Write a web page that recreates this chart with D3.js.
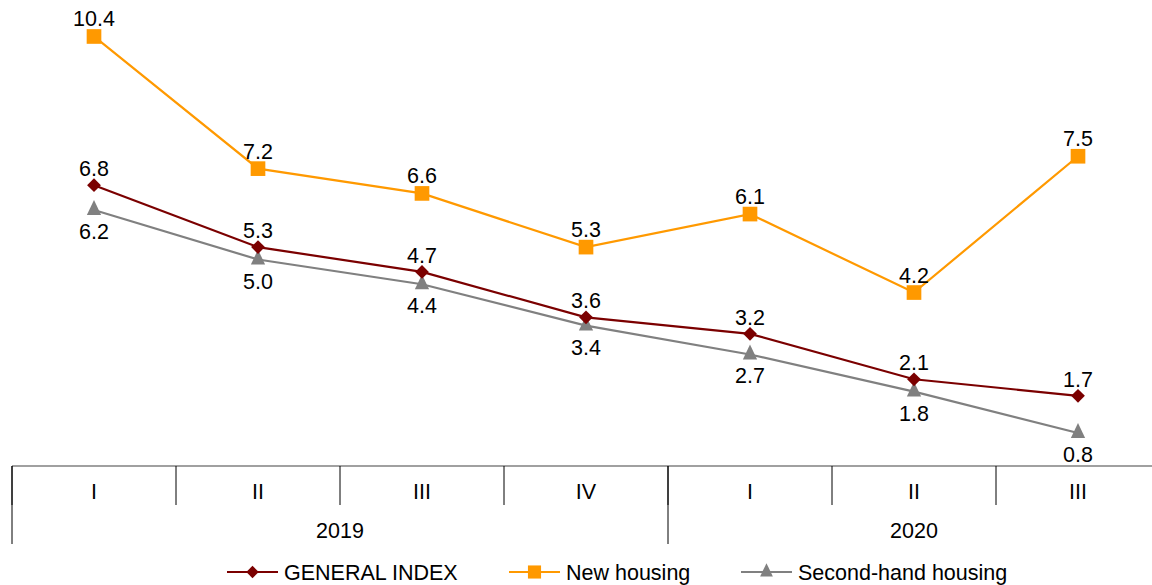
<!DOCTYPE html>
<html>
<head>
<meta charset="utf-8">
<script src="https://cdn.jsdelivr.net/npm/d3@7"></script>
<style>
  html, body { margin: 0; padding: 0; background: #fff; }
  svg { display: block; font-family: "Liberation Sans", Arial, sans-serif; }
</style>
</head>
<body>
<svg id="chart" width="1152" height="585"></svg>
<script>
// quarters and years along the bottom
const quarters = ['I', 'II', 'III', 'IV', 'I', 'II', 'III'];
const years = [{ label: '2019', n: 4 }, { label: '2020', n: 3 }];

const generalIndex = [6.8, 5.3, 4.7, 3.6, 3.2, 2.1, 1.7];
const newHousing = [10.4, 7.2, 6.6, 5.3, 6.1, 4.2, 7.5];
const secondHand = [6.2, 5.0, 4.4, 3.4, 2.7, 1.8, 0.8];

const FS = 21.5;   // text size used everywhere

// diamond = rotated square
const SERIES = [
    { name: 'GENERAL INDEX', values: generalIndex, color: '#7b0000', shape: d3.symbolSquare, size: 95, rot: 45, sy: 1, dy: -9 },
    { name: 'New housing', values: newHousing, color: '#ff9900', shape: d3.symbolSquare, size: 215, rot: 0, sy: 1, dy: -10 },
    { name: 'Second-hand housing', values: secondHand, color: '#808080', shape: d3.symbolTriangle, size: 88, rot: 0, sy: 1.2, dy: 29 }
];

const svg = d3.select('#chart');
const left = 12, step = 164;
const axisY = 466;

const x = d3.scaleBand()
    .domain(d3.range(quarters.length))
    .range([left, left + step * quarters.length]);

const y = d3.scaleLinear().domain([0, 11]).range([axisY, axisY - 11 * 41.3]);

const cx = i => x(i) + x.bandwidth() / 2;

// category axis: horizontal line + dividers
const ax = svg.append('g');
ax.append('line')
    .attr('x1', left).attr('x2', 1152)
    .attr('y1', axisY).attr('y2', axisY)
    .attr('stroke', '#808080').attr('stroke-width', 1.5);

quarters.forEach((q, i) => {
    ax.append('line')
        .attr('x1', x(i)).attr('x2', x(i))
        .attr('y1', axisY).attr('y2', axisY + 39)
        .attr('stroke', '#000').attr('stroke-width', 1);
    ax.append('text')
        .attr('x', cx(i)).attr('y', axisY + 33)
        .attr('text-anchor', 'middle')
        .attr('font-size', FS)
        .text(q);
});

let start = 0;
years.forEach(yr => {
    const x0 = x(start), x1 = x(start) + step * yr.n;
    ax.append('line')
        .attr('x1', x0).attr('x2', x0)
        .attr('y1', axisY).attr('y2', axisY + 78)
        .attr('stroke', '#000').attr('stroke-width', 1);
    ax.append('text')
        .attr('x', (x0 + x1) / 2).attr('y', axisY + 72)
        .attr('text-anchor', 'middle')
        .attr('font-size', FS)
        .text(yr.label);
    start += yr.n;
});

const line = d3.line().x((d, i) => cx(i)).y(d => y(d));

// lines first (second-hand at back), then markers and labels
const order = [SERIES[2], SERIES[1], SERIES[0]];
order.forEach(s => {
    svg.append('path')
        .datum(s.values)
        .attr('fill', 'none')
        .attr('stroke', s.color)
        .attr('stroke-width', 2.2)
        .attr('d', line);
});

order.forEach(s => {
    const g = svg.append('g');
    g.selectAll('path')
        .data(s.values)
        .join('path')
        .attr('transform', (d, i) => `translate(${cx(i)},${y(d)}) rotate(${s.rot}) scale(1,${s.sy})`)
        .attr('d', d3.symbol().type(s.shape).size(s.size))
        .attr('fill', s.color);

    g.selectAll('text')
        .data(s.values)
        .join('text')
        .attr('x', (d, i) => cx(i))
        .attr('y', d => y(d) + s.dy)
        .attr('text-anchor', 'middle')
        .attr('font-size', FS)
        .attr('fill', '#000')
        .text(d => d.toFixed(1));
});

// legend (sits right at the bottom edge)
const legendX = [227, 509, 741];
const legendY = 572;
SERIES.forEach((s, i) => {
    const lg = svg.append('g').attr('transform', `translate(${legendX[i]},${legendY})`);
    lg.append('line')
        .attr('x1', 0).attr('x2', 51)
        .attr('stroke', s.color).attr('stroke-width', 2.2);
    lg.append('path')
        .attr('transform', `translate(25.5,0) rotate(${s.rot}) scale(1,${s.sy})`)
        .attr('d', d3.symbol().type(s.shape).size(s.size * 0.8))
        .attr('fill', s.color);
    lg.append('text')
        .attr('x', 57).attr('y', 8)
        .attr('font-size', FS)
        .text(s.name);
});
</script>
</body>
</html>
